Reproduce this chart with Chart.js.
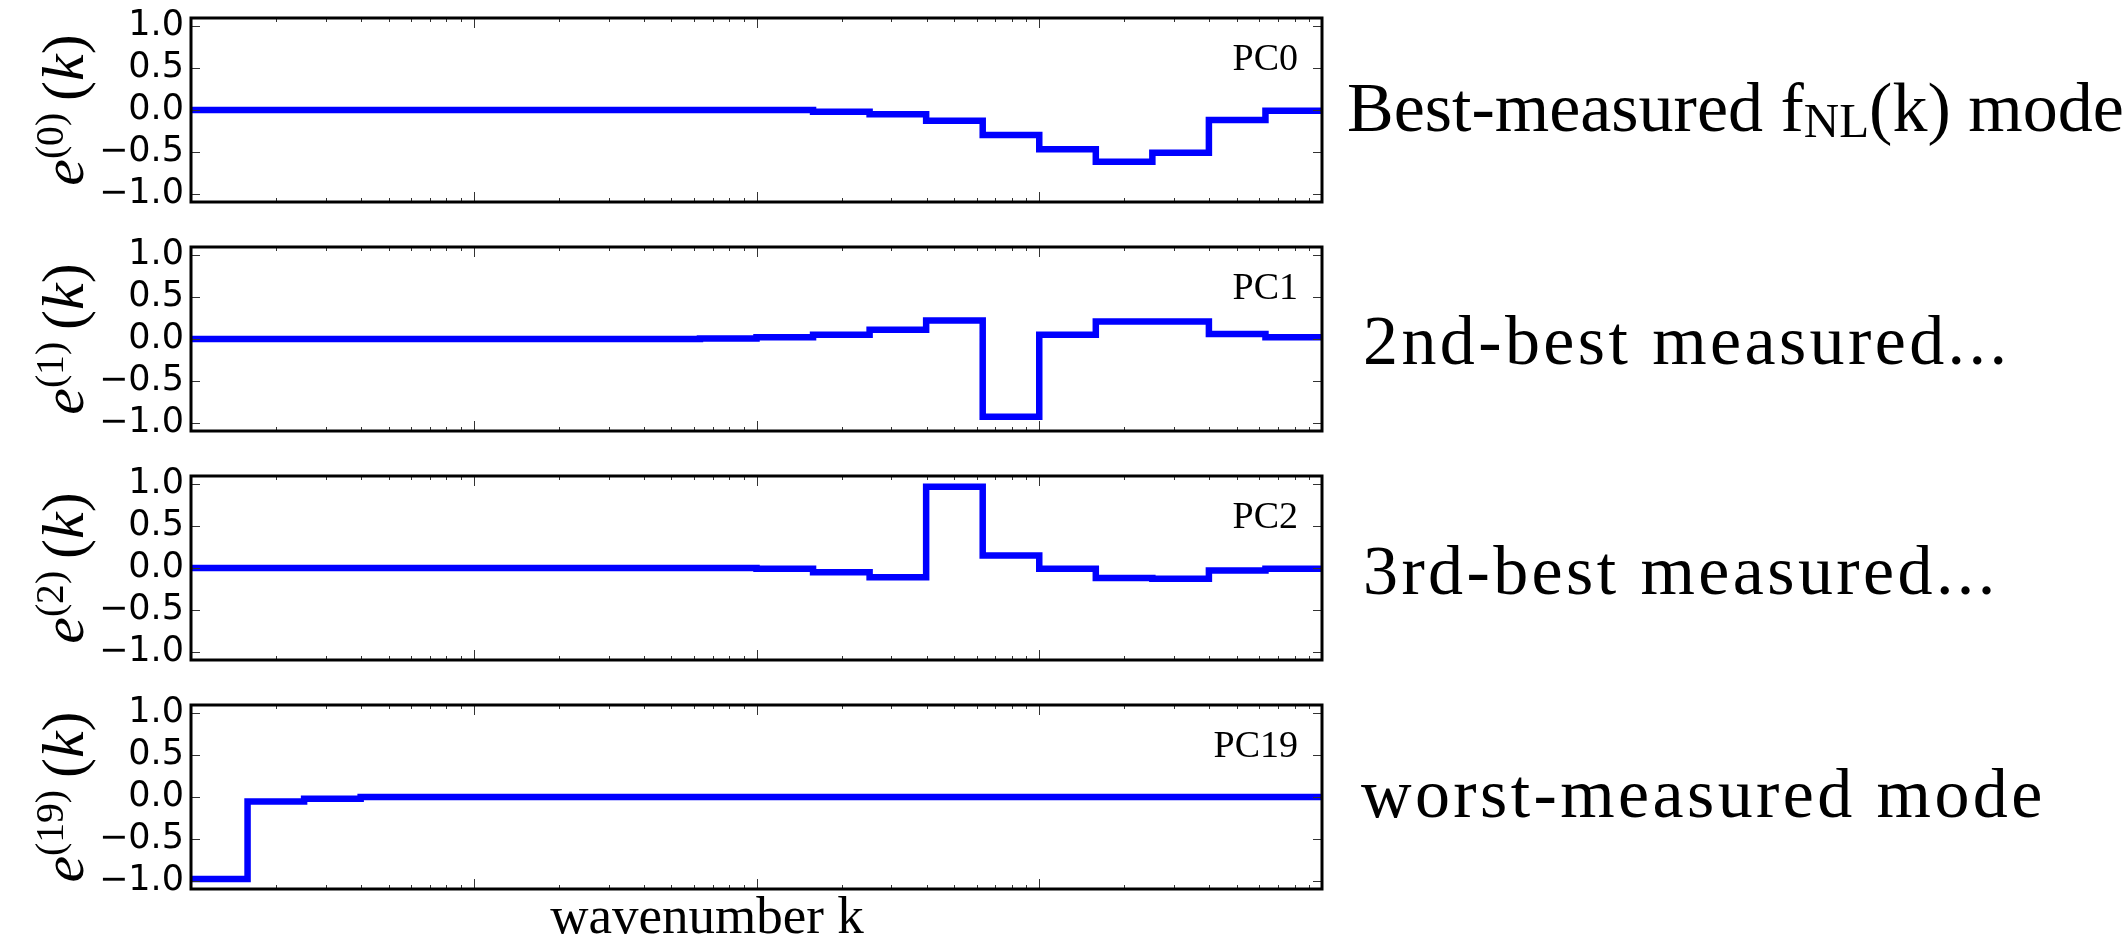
<!DOCTYPE html>
<html>
<head>
<meta charset="utf-8">
<script src="https://cdn.jsdelivr.net/npm/chart.js@4.4.0/dist/chart.umd.min.js"></script>
<style>
  body { margin: 0; background: #fff; }
  #page { position: relative; width: 2127px; height: 937px; overflow: hidden; font-family: "Liberation Serif", serif; color: #000; }
  canvas { position: absolute; left: 0; }
  .ylab { position: absolute; left: 63px; transform: translate(-50%, -50%) rotate(-90deg); white-space: nowrap; font-size: 60px; line-height: 1; }
  .ylab sup { font-size: 0.66em; vertical-align: 0.5em; line-height: 0; }
  .note { position: absolute; white-space: nowrap; font-size: 70px; line-height: 70px; }
  .note sub { font-size: 0.7em; vertical-align: -0.12em; line-height: 0; }
  .wide { letter-spacing: 3.4px; }
  .xlab { position: absolute; left: 707px; top: 889px; transform: translateX(-50%); white-space: nowrap; font-size: 53px; line-height: 53px; }
</style>
</head>
<body>
<div id="page">
  <canvas id="c0" width="2127" height="240"></canvas>
  <canvas id="c1" width="2127" height="240"></canvas>
  <canvas id="c2" width="2127" height="240"></canvas>
  <canvas id="c3" width="2127" height="240"></canvas>

  <div class="ylab" style="top:110px"><i>e</i><sup>(0)</sup>&#8201;(<i>k</i>)</div>
  <div class="ylab" style="top:339px"><i>e</i><sup>(1)</sup>&#8201;(<i>k</i>)</div>
  <div class="ylab" style="top:568px"><i>e</i><sup>(2)</sup>&#8201;(<i>k</i>)</div>
  <div class="ylab" style="top:797px"><i>e</i><sup>(19)</sup>&#8201;(<i>k</i>)</div>

  <div class="note" style="left:1347px; top:73px">Best-measured f<sub>NL</sub>(k) mode</div>
  <div class="note wide" style="left:1363px; top:306px">2nd-best measured...</div>
  <div class="note wide" style="left:1363px; top:536px">3rd-best measured...</div>
  <div class="note wide" style="left:1361px; top:759px">worst-measured mode</div>

  <div class="xlab">wavenumber k</div>
</div>

<script>
// k bin edges (20 log bins over 4 decades)
const kEdges = [1e-4, 1.585e-4, 2.512e-4, 3.981e-4, 6.310e-4,
                1e-3, 1.585e-3, 2.512e-3, 3.981e-3, 6.310e-3,
                1e-2, 1.585e-2, 2.512e-2, 3.981e-2, 6.310e-2,
                0.1, 0.1585, 0.2512, 0.3981, 0.6310, 1];

// eigenvector amplitude in each k bin
const pc0  = [0, 0, 0, 0, 0, 0, 0, 0, 0, 0, 0, -0.02, -0.05, -0.13, -0.30, -0.47, -0.62, -0.51, -0.12, -0.01];
const pc1  = [0, 0, 0, 0, 0, 0, 0, 0, 0, 0.005, 0.02, 0.05, 0.11, 0.22, -0.93, 0.05, 0.21, 0.21, 0.06, 0.02];
const pc2  = [0, 0, 0, 0, 0, 0, 0, 0, 0, 0, -0.01, -0.05, -0.11, 0.97, 0.15, -0.01, -0.12, -0.13, -0.03, -0.01];
const pc19 = [-0.98, -0.055, -0.02, 0, 0, 0, 0, 0, 0, 0, 0, 0, 0, 0, 0, 0, 0, 0, 0, 0];

const pcNames = ['PC0', 'PC1', 'PC2', 'PC19'];
const yTicks = [-1, -0.5, 0, 0.5, 1];

const plotTops = [14, 243, 472, 701];
const padTop = 24;

// step points: value held from left edge to next edge
function stepPoints(vals) {
  let pts = vals.map((v, i) => ({ x: kEdges[i], y: v }));
  pts.push({ x: kEdges[kEdges.length - 1], y: vals[vals.length - 1] });
  return pts;
}

function fmt(v) {
  let s = Math.abs(v).toFixed(1);
  return v < 0 ? '\u2212' + s : s;
}

// frame, inward ticks and PC label, like matplotlib
const frame = {
  id: 'frame',
  afterDatasetsDraw(chart, args, opts) {
    const { ctx, chartArea: a, scales: { x, y } } = chart;
    ctx.save();
    ctx.strokeStyle = '#333';
    ctx.lineWidth = 1;
    ctx.beginPath();
    // y ticks, left and right
    yTicks.forEach(v => {
      let py = Math.round(y.getPixelForValue(v)) + 0.5;
      ctx.moveTo(a.left, py); ctx.lineTo(a.left + 9, py);
      ctx.moveTo(a.right, py); ctx.lineTo(a.right - 9, py);
    });
    // log x ticks, top and bottom
    for (let e = -4; e <= 0; e++) {
      for (let m = 1; m <= 9; m++) {
        let k = m * Math.pow(10, e);
        if (k > x.max * 1.0001) break;
        let px = Math.round(x.getPixelForValue(k)) + 0.5;
        let len = m === 1 ? 10 : 4;
        ctx.moveTo(px, a.bottom); ctx.lineTo(px, a.bottom - len);
        ctx.moveTo(px, a.top); ctx.lineTo(px, a.top + len);
      }
    }
    ctx.stroke();
    ctx.strokeStyle = '#000';
    ctx.lineWidth = 3;
    ctx.strokeRect(a.left, a.top, a.right - a.left, a.bottom - a.top);

    ctx.fillStyle = '#000';
    ctx.font = '38px "Liberation Serif"';
    ctx.textAlign = 'right';
    ctx.textBaseline = 'alphabetic';
    ctx.fillText(opts.text, a.right - 24, a.top + 52);
    ctx.restore();
  }
};

const allValues = [pc0, pc1, pc2, pc19];

allValues.forEach((vals, i) => {
  const cv = document.getElementById('c' + i);
  cv.style.top = (plotTops[i] - padTop) + 'px';
  new Chart(cv.getContext('2d'), {
    type: 'line',
    data: {
      datasets: [{
        data: stepPoints(vals),
        borderColor: '#0000ff',
        borderWidth: 6.5,
        stepped: 'before',
        pointRadius: 0,
        fill: false
      }]
    },
    options: {
      responsive: false,
      animation: false,
      devicePixelRatio: 1,
      layout: { padding: { top: padTop, bottom: padTop, left: 0, right: 2127 - 1322 } },
      plugins: {
        legend: { display: false },
        tooltip: { enabled: false },
        frame: { text: pcNames[i] }
      },
      scales: {
        x: {
          type: 'logarithmic',
          min: kEdges[0],
          max: kEdges[kEdges.length - 1],
          display: false
        },
        y: {
          min: -1.1,
          max: 1.1,
          afterFit: s => { s.width = 191; },
          afterBuildTicks: s => { s.ticks = yTicks.map(v => ({ value: v })); },
          ticks: {
            color: '#000',
            padding: 7,
            font: { family: 'DejaVu Sans', size: 35 },
            callback: v => fmt(v)
          },
          grid: { display: false, drawTicks: false },
          border: { display: false }
        }
      }
    },
    plugins: [frame]
  });
});
</script>
</body>
</html>
